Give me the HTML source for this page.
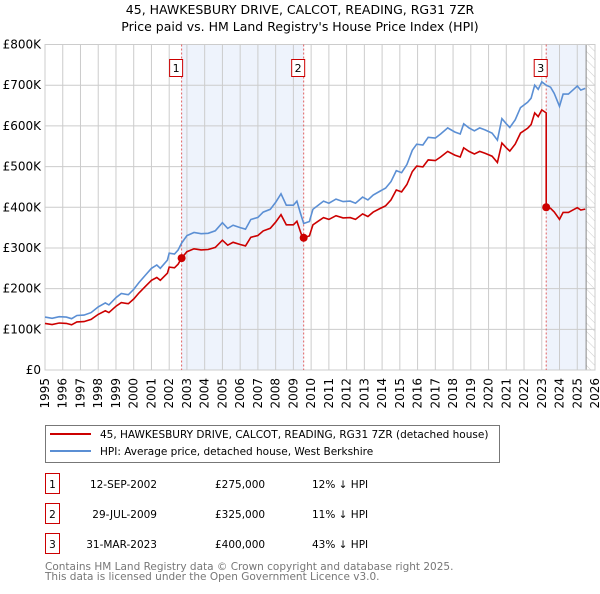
<!DOCTYPE html>
<html><head><meta charset="utf-8"><style>
body{margin:0;background:#fff;width:600px;height:590px;overflow:hidden;font-family:"DejaVu Sans","Liberation Sans",sans-serif;}
svg text{font-family:"DejaVu Sans","Liberation Sans",sans-serif;}
</style></head><body>
<svg id="chart" width="600" height="590" xmlns="http://www.w3.org/2000/svg">
<defs><pattern id="hatch" width="6" height="6" patternUnits="userSpaceOnUse" patternTransform="rotate(-45)"><line x1="0" y1="0" x2="0" y2="6" stroke="#ccc" stroke-width="1"/></pattern></defs>
<text x="300" y="14" text-anchor="middle" font-size="12.5">45, HAWKESBURY DRIVE, CALCOT, READING, RG31 7ZR</text>
<text x="300" y="31" text-anchor="middle" font-size="12.5">Price paid vs. HM Land Registry's House Price Index (HPI)</text>
<g id="plot"></g>
<g>
<rect x="45.5" y="425.5" width="454" height="37" fill="#fff" stroke="#777"/>
<line x1="50" y1="434" x2="91" y2="434" stroke="#cc0000" stroke-width="2"/>
<text x="100" y="438" font-size="10.5">45, HAWKESBURY DRIVE, CALCOT, READING, RG31 7ZR (detached house)</text>
<line x1="50" y1="451" x2="91" y2="451" stroke="#5b8fd4" stroke-width="2"/>
<text x="100" y="455" font-size="10.5">HPI: Average price, detached house, West Berkshire</text>
</g>
<g id="table" font-size="10.5"></g>
<text x="45" y="570" font-size="10.5" fill="#777">Contains HM Land Registry data © Crown copyright and database right 2025.</text>
<text x="45" y="580" font-size="10.5" fill="#777">This data is licensed under the Open Government Licence v3.0.</text>
</svg>
<script>
const hpiYears=[1995.0,1995.4,1995.8,1996.2,1996.5,1996.8,1997.2,1997.6,1998.0,1998.4,1998.6,1999.0,1999.3,1999.7,2000.0,2000.3,2000.7,2001.0,2001.3,2001.5,2001.9,2002.0,2002.3,2002.5,2002.7,2003.0,2003.4,2003.8,2004.2,2004.6,2005.0,2005.3,2005.6,2006.0,2006.3,2006.6,2007.0,2007.3,2007.7,2008.0,2008.3,2008.6,2009.0,2009.2,2009.4,2009.58,2009.9,2010.1,2010.4,2010.7,2011.0,2011.4,2011.8,2012.2,2012.5,2012.9,2013.2,2013.5,2013.9,2014.2,2014.5,2014.8,2015.1,2015.4,2015.7,2015.95,2016.3,2016.6,2017.0,2017.3,2017.7,2018.1,2018.4,2018.6,2018.9,2019.2,2019.5,2019.8,2020.2,2020.5,2020.75,2021.0,2021.2,2021.5,2021.8,2022.2,2022.4,2022.6,2022.8,2023.0,2023.25,2023.5,2023.7,2024.0,2024.2,2024.5,2024.8,2025.0,2025.2,2025.45];
const hpiValues=[130,127,131,130,126,134,135,141,155,165,160,178,188,185,198,215,235,250,258,250,270,287,285,295,312,330,338,335,336,342,362,348,356,350,346,370,375,388,395,412,433,405,405,415,385,360,365,395,405,415,410,420,414,415,410,425,418,430,440,447,463,490,485,505,540,555,553,572,570,580,595,585,580,605,595,588,595,590,582,565,618,605,596,615,645,658,668,700,690,708,700,695,680,648,678,678,690,698,688,692];
const saleYears=[2002.70,2009.58,2023.25];
const salePrices=[275,325,400];
const saleLabels=["1","2","3"];
const saleDates=["12-SEP-2002","29-JUL-2009","31-MAR-2023"];
const salePriceText=["£275,000","£325,000","£400,000"];
const saleDiffText=["12% ↓ HPI","11% ↓ HPI","43% ↓ HPI"];
const yTicks=[0,100,200,300,400,500,600,700,800];
const yTickLabels=["£0","£100K","£200K","£300K","£400K","£500K","£600K","£700K","£800K"];
const xTicks=[1995,1996,1997,1998,1999,2000,2001,2002,2003,2004,2005,2006,2007,2008,2009,2010,2011,2012,2013,2014,2015,2016,2017,2018,2019,2020,2021,2022,2023,2024,2025,2026];
const dataEnd=2025.5;

const L=45,R=595,T=44.5,B=370;
const xs=y=>L+(y-1995)/(2026-1995)*(R-L);
const ys=v=>B-v/800*(B-T);
const NS="http://www.w3.org/2000/svg";
const plot=document.getElementById('plot');
function mk(tag,attrs,parent){const e=document.createElementNS(NS,tag);for(const k in attrs)e.setAttribute(k,attrs[k]);(parent||plot).appendChild(e);return e;}
function hpiAt(y){for(let i=0;i<hpiYears.length-1;i++){if(y>=hpiYears[i]&&y<=hpiYears[i+1]){const t=(y-hpiYears[i])/(hpiYears[i+1]-hpiYears[i]);return hpiValues[i]+t*(hpiValues[i+1]-hpiValues[i]);}}return hpiValues[hpiValues.length-1];}

let sh=mk('rect',{x:xs(saleYears[0]),y:T,width:xs(saleYears[1])-xs(saleYears[0]),height:B-T,fill:'#eef3fc'});


let sh2=mk('rect',{x:xs(saleYears[2]),y:T,width:xs(dataEnd)-xs(saleYears[2]),height:B-T,fill:'#eef3fc'});


let hz=mk('rect',{x:xs(dataEnd),y:T,width:R-xs(dataEnd),height:B-T,fill:'url(#hatch)'});



yTicks.forEach((v,i)=>{
 const g=mk('line',{x1:L,x2:R,y1:ys(v),y2:ys(v),stroke:'#ccc','stroke-width':1});
 
 
 const t=mk('text',{x:L-4,y:ys(v)+4,'text-anchor':'end','font-size':'12'});
 t.textContent=yTickLabels[i];
 
 
});
xTicks.forEach(yr=>{
 const g=mk('line',{x1:xs(yr),x2:xs(yr),y1:T,y2:B,stroke:'#ccc','stroke-width':1});
 
 
 const t=mk('text',{x:0,y:0,'text-anchor':'end','font-size':'12',transform:`translate(${xs(yr)+4},${B+8}) rotate(-90)`});
 t.textContent=yr;
 
 
});
let dl=mk('line',{x1:xs(dataEnd),x2:xs(dataEnd),y1:T,y2:B,stroke:'#888','stroke-width':1});


let bd=mk('rect',{x:L,y:T,width:R-L,height:B-T,fill:'none',stroke:'#ccc'});



saleYears.forEach((yr,i)=>{
 const l=mk('line',{x1:xs(yr),x2:xs(yr),y1:T,y2:B,stroke:'#e06060','stroke-width':1,'stroke-dasharray':'2,2'});
 
 
 const b=mk('rect',{x:xs(yr)-12,y:59.5,width:13,height:17,fill:'#fff',stroke:'#cc0000'});
 
 
 const t=mk('text',{x:xs(yr)-5.5,y:72,'text-anchor':'middle','font-size':'11'});
 t.textContent=saleLabels[i];
 
 
});

let d='';hpiYears.forEach((yr,i)=>{d+=(i?'L':'M')+xs(yr).toFixed(1)+','+ys(hpiValues[i]).toFixed(1);});
const hl=mk('path',{d:d,fill:'none',stroke:'#5b8fd4','stroke-width':1.6});



function ratioAt(yr){let k=0;for(let i=0;i<saleYears.length;i++)if(yr>=saleYears[i])k=i;return salePrices[k]/hpiAt(saleYears[k]);}
let pts=[];
hpiYears.forEach((yr,i)=>{pts.push([yr,hpiValues[i]*ratioAt(yr)]);});
saleYears.forEach((yr,i)=>{pts.push([yr-0.001,hpiAt(yr)*ratioAt(yr-0.001)]);pts.push([yr,salePrices[i]]);});
pts.sort((a,b)=>a[0]-b[0]);
let d2='';pts.forEach((p,i)=>{d2+=(i?'L':'M')+xs(p[0]).toFixed(1)+','+ys(p[1]).toFixed(1);});
const pl=mk('path',{d:d2,fill:'none',stroke:'#cc0000','stroke-width':1.6});


saleYears.forEach((yr,i)=>{
 const c=mk('circle',{cx:xs(yr),cy:ys(salePrices[i]),r:4,fill:'#cc0000'});
 
 
});

const tb=document.getElementById('table');
saleLabels.forEach((lab,i)=>{
 const y=484+i*30;
 const b=mk('rect',{x:45.5,y:y-10.5,width:14,height:20,fill:'#fff',stroke:'#cc0000'},tb);
 
 
 const t0=mk('text',{x:52.5,y:y+4,'text-anchor':'middle'},tb);t0.textContent=lab;
 
 
 const t1=mk('text',{x:157,y:y+4,'text-anchor':'end'},tb);t1.textContent=saleDates[i];
 
 
 const t2=mk('text',{x:215,y:y+4},tb);t2.textContent=salePriceText[i];
 
 
 const t3=mk('text',{x:312,y:y+4},tb);t3.textContent=saleDiffText[i];
 
 
});
</script>
</body></html>
